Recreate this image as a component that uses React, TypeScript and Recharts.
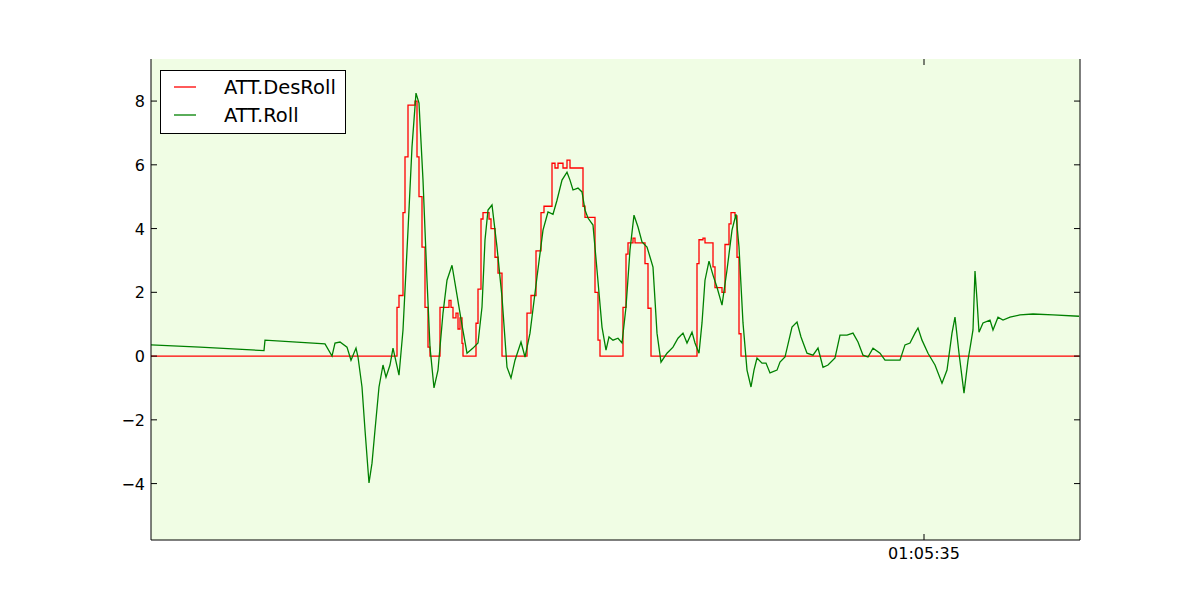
import React from 'react';
import { LineChart, Line, XAxis, YAxis, CartesianGrid, Legend } from 'recharts';

// time of day in seconds (01:05:35 = 3935)
const rollTimes = [
  3857.7, 3862.6, 3869.0, 3869.1, 3875.1, 3875.8, 3876.1, 3876.6, 3877.3, 3877.7,
  3878.2, 3878.4, 3878.8, 3879.1, 3879.5, 3879.8, 3880.1, 3880.5, 3880.9, 3881.2,
  3881.6, 3881.9, 3882.5, 3882.9, 3883.4, 3883.8, 3884.2, 3884.5, 3884.9, 3885.3,
  3885.6, 3886.0, 3886.4, 3886.9, 3887.3, 3887.8, 3888.3, 3888.8, 3889.3, 3889.9,
  3890.4, 3890.8, 3891.1, 3891.4, 3891.8, 3892.3, 3892.8, 3893.3, 3893.7, 3894.1,
  3894.7, 3895.1, 3895.6, 3896.3, 3896.9, 3897.4, 3897.9, 3898.3, 3898.8, 3899.3,
  3899.6, 3899.9, 3900.4, 3900.8, 3901.1, 3901.4, 3901.9, 3902.3, 3902.8, 3903.2,
  3903.5, 3903.9, 3904.4, 3904.8, 3905.2, 3905.6, 3906.0, 3906.4, 3906.8, 3907.3,
  3907.6, 3907.9, 3908.3, 3908.7, 3909.3, 3909.9, 3910.4, 3910.9, 3911.3, 3911.8,
  3912.1, 3912.5, 3912.8, 3913.1, 3913.5, 3913.9, 3914.3, 3914.8, 3915.3, 3915.8,
  3916.2, 3916.5, 3916.9, 3917.3, 3917.7, 3918.0, 3918.3, 3918.8, 3919.2, 3919.6,
  3920.3, 3920.6, 3921.1, 3921.8, 3922.3, 3922.7, 3923.3, 3923.9, 3924.4, 3924.9,
  3925.4, 3926.1, 3926.6, 3927.3, 3927.9, 3928.4, 3928.9, 3929.4, 3929.9, 3930.6,
  3931.1, 3931.8, 3932.6, 3933.1, 3933.6, 3934.1, 3934.4, 3934.8, 3935.4, 3936.1,
  3936.8, 3937.3, 3937.8, 3938.1, 3938.5, 3939.0, 3939.4, 3939.7, 3939.9, 3940.1,
  3940.3, 3940.5, 3940.9, 3941.6, 3941.9, 3942.4, 3942.9, 3943.6, 3944.6, 3945.9,
  3947.9, 3950.5,
];
const rollValues = [
  0.35, 0.28, 0.17, 0.5, 0.38, 0.0, 0.41, 0.44, 0.28, -0.13,
  0.25, -0.03, -0.97, -2.32, -3.98, -3.36, -2.32, -0.97, -0.28, -0.66,
  -0.28, 0.25, -0.6, 0.82, 3.95, 6.56, 8.25, 7.94, 5.52, 2.38,
  0.28, -1.0, -0.44, 1.35, 2.38, 2.85, 1.91, 0.97, 0.09, 0.25,
  0.41, 1.54, 3.64, 4.58, 4.74, 3.42, 1.85, -0.35, -0.69, -0.13,
  0.44, -0.03, 0.72, 2.48, 3.95, 4.52, 4.45, 4.89, 5.52, 5.77,
  5.52, 5.21, 5.27, 5.15, 4.58, 4.33, 4.11, 2.7, 0.91, 0.19,
  0.6, 0.5, 0.56, 0.41, 1.54, 3.33, 4.42, 4.05, 3.58, 3.42,
  3.11, 2.79, 0.72, -0.19, 0.09, 0.28, 0.56, 0.72, 0.41, 0.75,
  0.41, 0.09, 1.04, 2.38, 2.98, 2.54, 2.16, 1.6, 2.7, 3.95,
  4.45, 3.42, 1.04, -0.44, -0.97, -0.44, -0.06, -0.22, -0.22, -0.53,
  -0.44, -0.19, -0.03, 0.91, 1.07, 0.6, 0.09, 0.03, 0.25, -0.35,
  -0.28, -0.06, 0.66, 0.66, 0.72, 0.44, 0.03, -0.03, 0.25, 0.09,
  -0.13, -0.13, -0.13, 0.35, 0.41, 0.72, 0.88, 0.5, 0.09, -0.28,
  -0.85, -0.44, 0.72, 1.22, 0.09, -1.16, -0.13, 0.44, 0.82, 2.67,
  1.76, 0.75, 1.04, 1.13, 0.82, 1.22, 1.13, 1.22, 1.29, 1.32,
  1.29, 1.25,
];

const desRollTimes = [
  3857.7, 3882.3, 3882.5, 3882.9, 3883.1, 3883.4, 3884.1, 3884.3, 3884.5, 3884.8,
  3885.1, 3885.4, 3885.6, 3886.6, 3887.5, 3887.7, 3887.9, 3888.2, 3888.4, 3888.6,
  3888.8, 3888.9, 3890.2, 3890.4, 3890.7, 3890.9, 3891.5, 3891.7, 3892.1, 3892.4,
  3892.8, 3895.3, 3895.7, 3896.2, 3896.7, 3897.0, 3897.8, 3898.1, 3898.4, 3898.9,
  3899.3, 3899.6, 3900.9, 3901.1, 3902.1, 3902.4, 3902.6, 3904.9, 3905.2, 3905.4,
  3905.9, 3906.1, 3907.1, 3907.4, 3907.7, 3907.9, 3912.3, 3912.5, 3912.9, 3913.1,
  3913.9, 3914.1, 3914.3, 3914.8, 3915.1, 3915.5, 3915.7, 3916.1, 3916.3, 3916.5,
  3916.7, 3950.5,
];
const desRollValues = [
  0, 1.53, 1.9, 4.5, 6.25, 7.87, 8.0, 6.25, 5.0, 3.42,
  1.53, 0.28, 0, 1.53, 1.75, 1.53, 1.2, 1.35, 0.85, 1.2,
  0.4, 0, 1.03, 2.1, 4.3, 4.5, 4.3, 4.0, 3.1, 2.6,
  0, 1.35, 1.9, 3.3, 4.5, 4.7, 6.05, 5.9, 6.05, 5.9,
  6.15, 5.9, 4.7, 4.35, 2.0, 0.5, 0, 1.53, 3.2, 3.55,
  3.7, 3.55, 2.9, 1.5, 0, 0, 2.9, 3.65, 3.7, 3.55,
  2.8, 2.15, 2.15, 2.0, 3.5, 4.15, 4.5, 4.4, 3.1, 0.7,
  0, 0,
];

const yTicks = [-4, -2, 0, 2, 4, 6, 8];
const xTicks = [3935];

const rollData = rollTimes.map((t, i) => ({ t, v: rollValues[i] }));
const desRollData = desRollTimes.map((t, i) => ({ t, v: desRollValues[i] }));

const PLOT_LEFT = 151;
const PLOT_RIGHT = 1080;
const PLOT_TOP = 59;
const PLOT_BOTTOM = 540;
const TICK = 6;
const FONT = '"DejaVu Sans", sans-serif';

const pad = (n: number) => String(n).padStart(2, '0');
const hms = (s: number) =>
  `${pad(Math.floor(s / 3600))}:${pad(Math.floor((s % 3600) / 60))}:${pad(Math.round(s % 60))}`;

const YTick = (props: any) => {
  const { y, payload } = props;
  const label = payload.value < 0 ? `\u2212${Math.abs(payload.value)}` : `${payload.value}`;
  return (
    <g>
      <line x1={PLOT_LEFT} x2={PLOT_LEFT + TICK} y1={y} y2={y} stroke="#000" />
      <line x1={PLOT_RIGHT - TICK} x2={PLOT_RIGHT} y1={y} y2={y} stroke="#000" />
      <text x={PLOT_LEFT - 6} y={y} dy={6} textAnchor="end" fontSize={16} fontFamily={FONT} fill="#000">
        {label}
      </text>
    </g>
  );
};

const XTick = (props: any) => {
  const { x, payload } = props;
  return (
    <g>
      <line x1={x} x2={x} y1={PLOT_BOTTOM} y2={PLOT_BOTTOM - TICK} stroke="#000" />
      <line x1={x} x2={x} y1={PLOT_TOP} y2={PLOT_TOP + TICK} stroke="#000" />
      <text x={x} y={PLOT_BOTTOM + 19} textAnchor="middle" fontSize={16} fontFamily={FONT} fill="#000">
        {hms(payload.value)}
      </text>
    </g>
  );
};

const legendItems = [
  { name: 'ATT.DesRoll', color: '#ff0000' },
  { name: 'ATT.Roll', color: '#008000' },
];

const LegendBox = () => (
  <svg width={186} height={64} style={{ display: 'block' }}>
    <rect x={0.5} y={0.5} width={185} height={63} fill="#fff" stroke="#000" />
    {legendItems.map((item, i) => {
      const cy = 17 + i * 28;
      return (
        <g key={item.name}>
          <line x1={14} x2={36} y1={cy} y2={cy} stroke={item.color} strokeWidth={1.3} />
          <text x={64} y={cy} dy={7} fontSize={19.5} fontFamily={FONT} fill="#000">
            {item.name}
          </text>
        </g>
      );
    })}
  </svg>
);

export default function App() {
  return (
    <div style={{ position: 'absolute', left: 0, top: 0, width: 1200, height: 600, background: '#fff' }}>
      <LineChart
        width={1200}
        height={600}
        margin={{ top: PLOT_TOP, right: 1200 - PLOT_RIGHT - 1, bottom: 0, left: 0 }}
      >
        <CartesianGrid horizontal={false} vertical={false} fill="#f0fde4" />
        <XAxis
          dataKey="t"
          type="number"
          domain={[3857.7, 3950.6]}
          ticks={xTicks}
          allowDataOverflow
          height={600 - PLOT_BOTTOM}
          axisLine={{ stroke: '#000' }}
          tickLine={false}
          tick={<XTick />}
        />
        <XAxis
          xAxisId="top"
          orientation="top"
          dataKey="t"
          type="number"
          domain={[3857.7, 3950.6]}
          height={0}
          axisLine={{ stroke: '#000' }}
          tick={false}
          tickLine={false}
        />
        <YAxis
          type="number"
          domain={[-5.77, 9.32]}
          ticks={yTicks}
          allowDataOverflow
          width={PLOT_LEFT}
          axisLine={{ stroke: '#000' }}
          tickLine={false}
          tick={<YTick />}
        />
        <YAxis
          yAxisId="right"
          orientation="right"
          type="number"
          domain={[-5.77, 9.32]}
          width={1}
          axisLine={{ stroke: '#000' }}
          tick={false}
          tickLine={false}
        />
        <Legend
          layout="vertical"
          align="center"
          verticalAlign="middle"
          wrapperStyle={{ top: 70, left: 160, width: 'auto' }}
          content={<LegendBox />}
        />
        <Line
          data={desRollData}
          dataKey="v"
          name="ATT.DesRoll"
          type="stepAfter"
          stroke="#ff0000"
          strokeWidth={1.3}
          dot={false}
          isAnimationActive={false}
        />
        <Line
          data={rollData}
          dataKey="v"
          name="ATT.Roll"
          type="linear"
          stroke="#008000"
          strokeWidth={1.3}
          dot={false}
          isAnimationActive={false}
        />
      </LineChart>
    </div>
  );
}
